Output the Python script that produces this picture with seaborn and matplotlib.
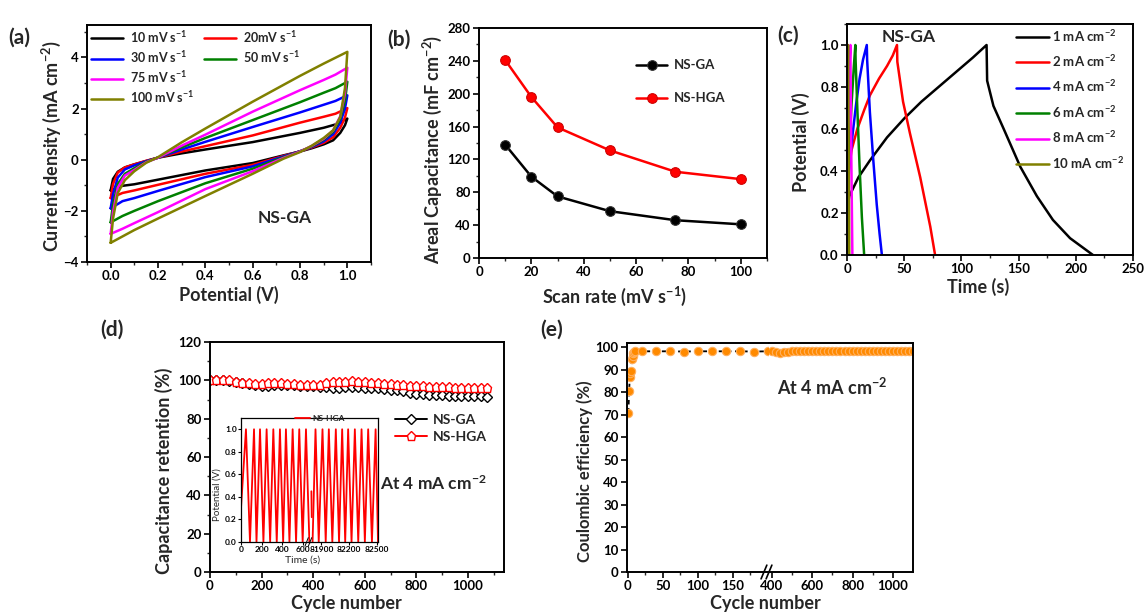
import matplotlib
matplotlib.use("Agg")
import matplotlib.pyplot as plt
import seaborn as sns
from matplotlib.lines import Line2D
from matplotlib.ticker import MultipleLocator, FixedLocator

# ---------------- data ----------------
# (a) CV curves of NS-GA: forward and reverse sweeps
E_FWD = [0.0, 0.01, 0.03, 0.06, 0.1, 0.15, 0.2, 0.3, 0.4, 0.6, 0.8, 0.9, 0.95, 1.0]
E_REV = [1.0, 0.99, 0.97, 0.94, 0.9, 0.85, 0.8, 0.73, 0.6, 0.4, 0.2, 0.1, 0.05, 0.0]
CV_LABELS = ["10 mV s$^{-1}$", "20mV s$^{-1}$", "30 mV s$^{-1}$",
             "50 mV s$^{-1}$", "75 mV s$^{-1}$", "100 mV s$^{-1}$"]
CV_COLORS = ["black", "#ff0000", "#0000ff", "#008000", "#ff00ff", "#808000"]
CV_FWD = [
    [-1.2, -0.75, -0.47, -0.3, -0.18, -0.05, 0.08, 0.25, 0.4, 0.69, 1.05, 1.25, 1.38, 1.61],
    [-1.5, -0.95, -0.5, -0.3, -0.18, -0.04, 0.08, 0.32, 0.53, 0.95, 1.45, 1.68, 1.8, 2.02],
    [-1.9, -1.35, -0.7, -0.38, -0.22, -0.06, 0.08, 0.4, 0.7, 1.28, 1.85, 2.15, 2.3, 2.52],
    [-2.45, -1.75, -0.95, -0.55, -0.33, -0.08, 0.08, 0.48, 0.85, 1.55, 2.25, 2.62, 2.8, 3.05],
    [-2.9, -2.05, -1.1, -0.62, -0.4, -0.1, 0.08, 0.55, 0.98, 1.88, 2.72, 3.12, 3.33, 3.6],
    [-3.25, -2.3, -1.3, -0.8, -0.45, -0.12, 0.1, 0.68, 1.22, 2.27, 3.28, 3.76, 3.99, 4.22],
]
CV_REV = [
    [1.61, 1.35, 1.05, 0.76, 0.6, 0.45, 0.32, 0.17, -0.13, -0.42, -0.78, -0.96, -1.02, -1.2],
    [2.02, 1.65, 1.25, 0.88, 0.66, 0.48, 0.33, 0.15, -0.2, -0.55, -0.98, -1.2, -1.3, -1.5],
    [2.52, 2.0, 1.45, 1.0, 0.72, 0.5, 0.33, 0.13, -0.26, -0.68, -1.22, -1.5, -1.62, -1.9],
    [3.05, 2.3, 1.6, 1.1, 0.78, 0.52, 0.33, 0.1, -0.35, -0.92, -1.62, -2.0, -2.2, -2.45],
    [3.6, 2.6, 1.7, 1.15, 0.82, 0.54, 0.32, 0.07, -0.45, -1.15, -2.05, -2.48, -2.7, -2.9],
    [4.22, 2.8, 1.67, 1.15, 0.85, 0.55, 0.3, 0.04, -0.55, -1.42, -2.3, -2.75, -3.0, -3.25],
]

# (b) areal capacitance vs scan rate
SCAN_RATE = [10, 20, 30, 50, 75, 100]
CAP_GA = [138, 99, 75, 57, 46, 41]
CAP_HGA = [241, 196, 159, 131, 105, 96]

# (c) GCD curves of NS-GA
GCD_LABELS = ["1 mA cm$^{-2}$", "2 mA cm$^{-2}$", "4 mA cm$^{-2}$",
              "6 mA cm$^{-2}$", "8 mA cm$^{-2}$", "10 mA cm$^{-2}$"]
GCD_T = [
    [0, 2, 10, 20, 35, 50, 65, 80, 95, 110, 122, 122.5, 128, 137, 151.5, 166, 180, 195, 205, 215],
    [0, 1, 4, 9, 15, 20, 28, 35, 40, 43.7, 44, 49, 55, 64, 72.8, 77],
    [0, 0.5, 2, 5, 8, 11, 14, 17.3, 17.6, 20, 23, 26, 28.5, 30.5],
    [0, 0.5, 2, 4, 6, 7.3, 7.5, 9, 11, 13, 15],
    [0, 0.5, 1.5, 2.5, 3.0, 3.1, 3.8, 4.7],
    [0, 0.4, 0.9, 1.0, 1.5, 2.0],
]
GCD_V = [
    [0.22, 0.28, 0.37, 0.45, 0.56, 0.65, 0.73, 0.8, 0.87, 0.94, 1.0, 0.83, 0.71, 0.6, 0.42, 0.28, 0.167, 0.08, 0.04, 0.0],
    [0.28, 0.38, 0.5, 0.6, 0.69, 0.76, 0.84, 0.9, 0.95, 1.0, 0.92, 0.73, 0.58, 0.37, 0.135, 0.0],
    [0.22, 0.3, 0.42, 0.58, 0.72, 0.84, 0.93, 1.0, 0.93, 0.68, 0.45, 0.24, 0.1, 0.0],
    [0.22, 0.32, 0.5, 0.72, 0.9, 1.0, 0.93, 0.7, 0.42, 0.18, 0.0],
    [0.3, 0.5, 0.75, 0.95, 1.0, 0.9, 0.45, 0.0],
    [0.4, 0.75, 1.0, 0.9, 0.45, 0.0],
]

# (d) capacitance retention
CYCLES_D = list(range(0, 1100, 25))
RET_GA = [100, 100.2, 100, 99.8, 99, 98.5, 98, 97.5, 97.3, 97.3, 97.5, 97.8, 97.7, 97.5,
          97.2, 97, 96.8, 96.5, 96.3, 96.2, 96.2, 96.3, 96.3, 96.3, 96.2, 96, 95.8, 95.5,
          95.2, 94.8, 94.3, 93.6, 93, 92.7, 92.4, 92.2, 92.1, 92, 92, 91.9, 91.8, 91.7,
          91.6, 91.5]
RET_HGA = [100, 100.2, 100.2, 100, 99.3, 98.8, 98.5, 98.3, 98.3, 98.5, 98.8, 98.6, 98.3,
           98, 97.7, 97.5, 97.5, 97.8, 98.5, 99, 99.2, 99.3, 99.4, 99.3, 99, 98.8, 98.5,
           98.2, 98, 97.7, 97.4, 97.2, 97, 96.8, 96.6, 96.5, 96.4, 96.3, 96.2, 96.1, 96,
           96, 95.9, 95.8]

# (d) inset: GCD cycling of NS-HGA (broken time axis)
INS_T1 = [0, 48, 87, 126, 150, 184, 217, 248, 282, 313, 346, 377, 408, 435, 469, 500,
          533, 564, 597, 629, 662]
INS_V1 = [0.3, 1, 0, 1, 0, 1, 0, 1, 0, 1, 0, 1, 0, 1, 0, 1, 0, 1, 0, 1, 0]
INS_STUB_T = [81790, 81794]
INS_STUB_V = [0.45, 0.22]
INS_T2 = [81803, 81835, 81870, 81911, 81946, 81980, 82018, 82056, 82091, 82125, 82158,
          82190, 82227, 82263, 82300, 82336, 82372, 82408, 82449, 82489, 82515]
INS_V2 = [0, 1, 0, 1, 0, 1, 0, 1, 0, 1, 0, 1, 0, 1, 0, 1, 0, 1, 0, 1, 0]

# (e) coulombic efficiency (broken cycle axis)
CYC_E1 = [1, 2, 3, 4, 5, 6, 7, 8, 9, 10, 20, 40, 60, 80, 100, 120, 140, 160, 180, 200]
CE_1 = [71, 80.5, 87, 88.5, 89.5, 95, 96, 97.5, 98, 98.3, 98.3, 98.3, 98.3, 98.2, 98.3,
        98.3, 98.3, 98.3, 98.2, 98.3]
CYC_E2 = list(range(400, 1101, 20))
CE_2 = [98.3, 98.2, 97.6, 97.8, 98.2, 98.3, 98.3, 98.3, 98.3, 98.4, 98.3, 98.3, 98.3,
        98.3, 98.4, 98.4, 98.3, 98.4, 98.5, 98.6, 98.5, 98.4, 98.4, 98.4, 98.3, 98.4,
        98.4, 98.4, 98.3, 98.4, 98.4, 98.3, 98.4, 98.4, 98.3, 98.3]

ORANGE = "#ff8a00"

# ---------------- style ----------------
sns.set_theme(style="ticks")
plt.rcParams["font.family"] = ["Lato", "DejaVu Sans"]
plt.rcParams["font.weight"] = "bold"
plt.rcParams["axes.labelweight"] = "bold"
plt.rcParams["mathtext.fontset"] = "custom"
plt.rcParams["mathtext.rm"] = "Lato:bold"
plt.rcParams["mathtext.it"] = "Lato:bold"
plt.rcParams["mathtext.bf"] = "Lato:bold"
plt.rcParams["mathtext.default"] = "rm"
plt.rcParams["axes.linewidth"] = 1.4

W, H = 1147, 615
fig = plt.figure(figsize=(W / 100, H / 100), dpi=100)


def box(left, top, right, bottom):
    return [left / W, 1 - bottom / H, (right - left) / W, (bottom - top) / H]


def style_axis(ax, fs=9.5):
    for s in ax.spines.values():
        s.set_linewidth(1.4)
        s.set_color("black")
    ax.tick_params(which="major", direction="out", length=4, width=1.2,
                   labelsize=fs, top=False, right=False, pad=2, colors="black")
    ax.tick_params(which="minor", direction="out", length=2.2, width=1.0,
                   top=False, right=False)
    ax.grid(False)


LABEL_FS = 13

# ---------------- (a) ----------------
ax_a = fig.add_axes(box(87, 25, 371, 262))
cv_handles = []
for lab, col, fwd, rev in zip(CV_LABELS, CV_COLORS, CV_FWD, CV_REV):
    sns.lineplot(x=E_FWD + E_REV, y=fwd + rev, sort=False, estimator=None,
                 color=col, lw=1.8, ax=ax_a, legend=False)
    ax_a.lines[-1].set_label(lab)
    cv_handles.append(ax_a.lines[-1])
ax_a.set_xlim(-0.1, 1.1)
ax_a.set_ylim(-4, 5.27)
ax_a.xaxis.set_major_locator(MultipleLocator(0.2))
ax_a.xaxis.set_minor_locator(MultipleLocator(0.1))
ax_a.yaxis.set_major_locator(FixedLocator([-4, -2, 0, 2, 4]))
ax_a.yaxis.set_minor_locator(FixedLocator([-3, -1, 1, 3, 5]))
ax_a.set_xticklabels([f"{v:.1f}" for v in ax_a.get_xticks()])
style_axis(ax_a)
ax_a.set_xlabel("Potential (V)", fontsize=LABEL_FS)
ax_a.set_ylabel("Current density (mA cm$^{-2}$)", fontsize=LABEL_FS)
ax_a.xaxis.set_label_coords(0.5, -0.1)
ax_a.yaxis.set_label_coords(-0.085, 0.49)
blank = Line2D([], [], color="none", label=" ")
h = cv_handles
ax_a.legend([h[0], h[2], h[4], h[5], h[1], h[3], blank, blank],
            [CV_LABELS[0], CV_LABELS[2], CV_LABELS[4], CV_LABELS[5],
             CV_LABELS[1], CV_LABELS[3], "", ""],
            ncol=2, loc="upper left", bbox_to_anchor=(0.0, 1.0), frameon=False,
            fontsize=9, handlelength=2.6, columnspacing=0.8, labelspacing=0.35,
            handletextpad=0.5, borderaxespad=0.1, borderpad=0.2)
ax_a.text(0.735, -2.26, "NS-GA", fontsize=12.5, fontweight="bold", ha="center", va="center")

# ---------------- (b) ----------------
ax_b = fig.add_axes(box(479, 28, 767, 258))
sns.lineplot(x=SCAN_RATE, y=CAP_GA, color="black", marker="o", markersize=7,
             markeredgecolor="#333333", lw=1.8, ax=ax_b, legend=False)
ax_b.lines[-1].set_label("NS-GA")
sns.lineplot(x=SCAN_RATE, y=CAP_HGA, color="#ff0000", marker="o", markersize=7,
             markeredgecolor="#cc0000", lw=1.8, ax=ax_b, legend=False)
ax_b.lines[-1].set_label("NS-HGA")
ax_b.set_xlim(0, 110)
ax_b.set_ylim(0, 280)
ax_b.xaxis.set_major_locator(MultipleLocator(20))
ax_b.xaxis.set_minor_locator(MultipleLocator(10))
ax_b.yaxis.set_major_locator(MultipleLocator(40))
ax_b.yaxis.set_minor_locator(MultipleLocator(20))
style_axis(ax_b)
ax_b.set_xlabel("Scan rate (mV s$^{-1}$)", fontsize=LABEL_FS)
ax_b.set_ylabel("Areal Capacitance (mF cm$^{-2}$)", fontsize=LABEL_FS)
ax_b.xaxis.set_label_coords(0.47, -0.115)
ax_b.yaxis.set_label_coords(-0.12, 0.47)
ax_b.legend(loc="upper left", bbox_to_anchor=(0.535, 0.875), frameon=False, fontsize=9.5,
            handlelength=2.4, labelspacing=1.6, handletextpad=0.5, borderaxespad=0,
            borderpad=0.2)

# ---------------- (c) ----------------
ax_c = fig.add_axes(box(847, 24, 1133, 255))
for lab, col, t, v in zip(GCD_LABELS, CV_COLORS, GCD_T, GCD_V):
    sns.lineplot(x=t, y=v, sort=False, estimator=None, color=col, lw=1.8,
                 ax=ax_c, legend=False)
    ax_c.lines[-1].set_label(lab)
ax_c.set_xlim(0, 250)
ax_c.set_ylim(0, 1.1)
ax_c.xaxis.set_major_locator(MultipleLocator(50))
ax_c.xaxis.set_minor_locator(MultipleLocator(25))
ax_c.yaxis.set_major_locator(MultipleLocator(0.2))
ax_c.yaxis.set_minor_locator(MultipleLocator(0.1))
ax_c.set_yticklabels([f"{v:.1f}" for v in ax_c.get_yticks()])
style_axis(ax_c)
ax_c.set_xlabel("Time (s)", fontsize=LABEL_FS)
ax_c.set_ylabel("Potential (V)", fontsize=LABEL_FS)
ax_c.xaxis.set_label_coords(0.46, -0.1)
ax_c.yaxis.set_label_coords(-0.13, 0.49)
ax_c.legend(loc="upper left", bbox_to_anchor=(0.58, 0.995), frameon=False, fontsize=9.5,
            handlelength=2.5, labelspacing=0.72, handletextpad=0.3, borderaxespad=0,
            borderpad=0.2)
ax_c.text(54, 1.04, "NS-GA", fontsize=12.5, fontweight="bold", ha="center", va="center")

# ---------------- (d) ----------------
ax_d = fig.add_axes(box(210, 342, 504, 572))
sns.lineplot(x=CYCLES_D, y=RET_GA, color="black", marker="D", markersize=5,
             markerfacecolor="white", markeredgecolor="black", markeredgewidth=1.0,
             lw=1.4, ax=ax_d, legend=False)
ax_d.lines[-1].set_label("NS-GA")
sns.lineplot(x=CYCLES_D, y=RET_HGA, color="#ff0000", marker="p", markersize=6.5,
             markerfacecolor="white", markeredgecolor="#ff0000", markeredgewidth=1.0,
             lw=1.4, ax=ax_d, legend=False)
ax_d.lines[-1].set_label("NS-HGA")
ax_d.set_xlim(0, 1140)
ax_d.set_ylim(0, 120)
ax_d.xaxis.set_major_locator(MultipleLocator(200))
ax_d.xaxis.set_minor_locator(MultipleLocator(100))
ax_d.yaxis.set_major_locator(MultipleLocator(20))
ax_d.yaxis.set_minor_locator(MultipleLocator(10))
style_axis(ax_d)
ax_d.set_xlabel("Cycle number", fontsize=LABEL_FS)
ax_d.set_ylabel("Capacitance retention (%)", fontsize=LABEL_FS)
ax_d.xaxis.set_label_coords(0.465, -0.1)
ax_d.yaxis.set_label_coords(-0.125, 0.44)
ax_d.legend(loc="upper left", bbox_to_anchor=(0.62, 0.70), frameon=False, fontsize=10,
            handlelength=2.3, labelspacing=0.35, handletextpad=0.4, borderaxespad=0,
            borderpad=0.2)
ax_d.text(658, 45.9, "At 4 mA cm$^{-2}$", fontsize=12.5, fontweight="bold",
          ha="left", va="center")

# inset, two pieces for the broken time axis
in1 = fig.add_axes(box(241, 418, 310, 542))
in2 = fig.add_axes(box(310, 418, 378, 542))
sns.lineplot(x=INS_T1, y=INS_V1, sort=False, estimator=None, color="#ff0000", lw=1.3,
             ax=in1, legend=False)
sns.lineplot(x=INS_STUB_T, y=INS_STUB_V, sort=False, estimator=None, color="#ff0000",
             lw=1.3, ax=in2, legend=False)
sns.lineplot(x=INS_T2, y=INS_V2, sort=False, estimator=None, color="#ff0000", lw=1.3,
             ax=in2, legend=False)
in2.lines[-1].set_label("NS-HGA")
in1.set_xlim(0, 668)
in2.set_xlim(81775, 82515)
for ax in (in1, in2):
    ax.set_ylim(0, 1.1)
    for s in ax.spines.values():
        s.set_linewidth(0.9)
        s.set_color("black")
    ax.tick_params(which="major", direction="out", length=2, width=0.8, labelsize=6,
                   top=False, right=False, pad=1, colors="black")
    ax.grid(False)
    ax.set_facecolor("white")
in1.xaxis.set_major_locator(FixedLocator([0, 200, 400, 600]))
in2.xaxis.set_major_locator(FixedLocator([81900, 82200, 82500]))
in1.yaxis.set_major_locator(MultipleLocator(0.2))
in1.set_yticklabels([f"{v:.1f}" for v in in1.get_yticks()])
in1.spines["right"].set_visible(False)
in2.spines["left"].set_visible(False)
in2.tick_params(axis="y", left=False, labelleft=False)
in1.set_ylabel("Potential (V)", fontsize=7, fontweight="normal", labelpad=1)
in1.yaxis.set_label_coords(-0.28, 0.38)
fig.text(303 / W, 1 - 556 / H, "Time (s)", fontsize=7.5, fontweight="normal",
         ha="center", va="top")
in2.legend(loc="upper center", bbox_to_anchor=(0.15, 1.03), frameon=False, fontsize=6,
           handlelength=1.8, handletextpad=0.3, borderaxespad=0, borderpad=0.1)
for dx in (-0.05, 0.0):
    in2.plot([dx - 0.025, dx + 0.025], [-0.035, 0.035], transform=in2.transAxes,
             color="black", lw=0.7, clip_on=False)

# ---------------- (e) ----------------
e1 = fig.add_axes(box(627, 343, 769, 572))
e2 = fig.add_axes(box(769, 343, 913, 572))
for ax, cyc, ce in ((e1, CYC_E1, CE_1), (e2, CYC_E2, CE_2)):
    sns.lineplot(x=cyc, y=ce, sort=False, estimator=None, color="black", lw=1.3,
                 marker="o", markersize=6, markerfacecolor=ORANGE,
                 markeredgecolor="#ffb060", markeredgewidth=0.8, ax=ax, legend=False)
    ax.lines[-1].set_linestyle((0, (2.5, 2)))
    ax.set_ylim(0, 102)
    style_axis(ax)
e1.set_xlim(-1, 202)
e2.set_xlim(385, 1100)
e1.xaxis.set_major_locator(FixedLocator([0, 50, 100, 150]))
e1.xaxis.set_minor_locator(FixedLocator([25, 75, 125, 175]))
e2.xaxis.set_major_locator(FixedLocator([400, 600, 800, 1000]))
e2.xaxis.set_minor_locator(FixedLocator([500, 700, 900]))
e1.yaxis.set_major_locator(MultipleLocator(10))
e1.spines["right"].set_visible(False)
e2.spines["left"].set_visible(False)
e2.tick_params(axis="y", which="both", left=False, labelleft=False)
e1.set_ylabel("Coulombic efficiency (%)", fontsize=12)
e1.yaxis.set_label_coords(-0.24, 0.44)
fig.text(765 / W, 1 - 595 / H, "Cycle number", fontsize=LABEL_FS, fontweight="bold",
         ha="center", va="top")
e2.text(425, 82.3, "At 4 mA cm$^{-2}$", fontsize=13, fontweight="bold",
        ha="left", va="center")
for dx in (-0.035, 0.0):
    e2.plot([dx - 0.02, dx + 0.02], [-0.03, 0.03], transform=e2.transAxes,
            color="black", lw=1.2, clip_on=False)

# ---------------- panel labels ----------------
for txt, x, y in (("(a)", 8, 38), ("(b)", 387, 40), ("(c)", 777, 36),
                  ("(d)", 100, 330), ("(e)", 540, 330)):
    fig.text(x / W, 1 - y / H, txt, fontsize=15, fontweight="bold", ha="left", va="center")

fig.savefig("out.png", dpi=100)
